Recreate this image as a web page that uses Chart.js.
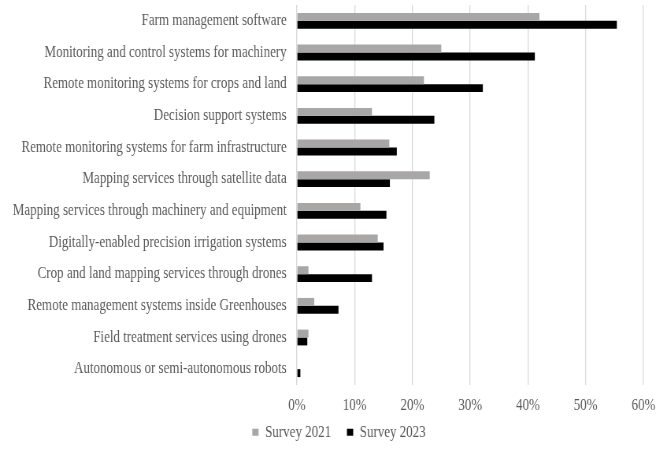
<!DOCTYPE html>
<html>
<head>
<meta charset="utf-8">
<script src="https://cdn.jsdelivr.net/npm/chart.js@4/dist/chart.umd.min.js"></script>
<style>
  html, body { margin: 0; padding: 0; background: #fff; overflow: hidden; }
  #outer { width: 667px; height: 450px; overflow: hidden; position: relative; }
  /* text in the original is horizontally condensed: draw wider, then squeeze */
  #wrap { width: 847px; height: 450px; position: absolute; left: 0; top: 0;
          transform: scaleX(0.7875); transform-origin: 0 0; }
</style>
</head>
<body>
<div id="outer"><div id="wrap"><canvas id="chart"></canvas></div></div>
<script>
const CATEGORIES = [
  'Farm management software',
  'Monitoring and control systems for machinery',
  'Remote monitoring systems for crops and land',
  'Decision support systems',
  'Remote monitoring systems for farm infrastructure',
  'Mapping services through satellite data',
  'Mapping services through machinery and equipment',
  'Digitally-enabled precision irrigation systems',
  'Crop and land mapping services through drones',
  'Remote management systems inside Greenhouses',
  'Field treatment services using drones',
  'Autonomous or semi-autonomous robots'
];

const SURVEY_2021 = [42, 25, 22, 13, 16, 23, 11, 14, 2, 3, 2, 0];
const SURVEY_2023 = [55.4, 41.2, 32.2, 23.8, 17.3, 16.1, 15.5, 15, 13, 7.2, 1.8, 0.6];

const X_TICKS = [0, 10, 20, 30, 40, 50, 60];

const FONT = 'Liberation Serif, Times New Roman, serif';
const TEXT = '#595959';
const FSIZE = 16.5;

// fixed legend box height + small shift of where it is drawn
const legendFix = {
  id: 'legendFix',
  beforeInit(chart) {
    const lg = chart.legend;
    const fit = lg.fit, draw = lg.draw;
    lg.fit = function () { fit.call(this); this.height = 34; };
    lg.draw = function () {
      const dx = 22, dy = -12;
      this.left += dx; this.right += dx; this.top += dy;
      draw.call(this);
      this.left -= dx; this.right -= dx; this.top -= dy;
    };
  }
};

new Chart(document.getElementById('chart'), {
  type: 'bar',
  data: {
    labels: CATEGORIES,
    datasets: [
      { label: 'Survey 2021', data: SURVEY_2021, backgroundColor: '#a9a6a6' },
      { label: 'Survey 2023', data: SURVEY_2023, backgroundColor: '#000000' }
    ]
  },
  options: {
    indexAxis: 'y',
    responsive: true,
    maintainAspectRatio: false,
    animation: false,
    datasets: { bar: { categoryPercentage: 0.5, barPercentage: 1.0 } },
    layout: { padding: { top: 5, right: 30, bottom: 0, left: 0 } },
    scales: {
      x: {
        min: 0, max: 60,
        afterBuildTicks: s => { s.ticks = X_TICKS.map(v => ({ value: v })); },
        grid: { color: '#d9d9d9', lineWidth: 1.3, drawTicks: false },
        border: { display: false },
        ticks: { color: TEXT, font: { family: FONT, size: FSIZE }, padding: 11,
                 callback: v => v + '%' },
        afterFit: s => { s.height = 31; }
      },
      y: {
        grid: { display: false, drawTicks: false },
        border: { display: false },
        ticks: { color: TEXT, font: { family: FONT, size: FSIZE }, padding: 13, autoSkip: false },
        afterFit: s => { s.width = 377; s.paddingTop = 0; s.paddingBottom = 0; }
      }
    },
    plugins: {
      legend: {
        position: 'bottom',
        labels: { color: TEXT, font: { family: FONT, size: FSIZE }, boxWidth: 8, boxHeight: 7, padding: 20 }
      },
      tooltip: { enabled: false }
    }
  },
  plugins: [legendFix]
});
</script>
</body>
</html>
